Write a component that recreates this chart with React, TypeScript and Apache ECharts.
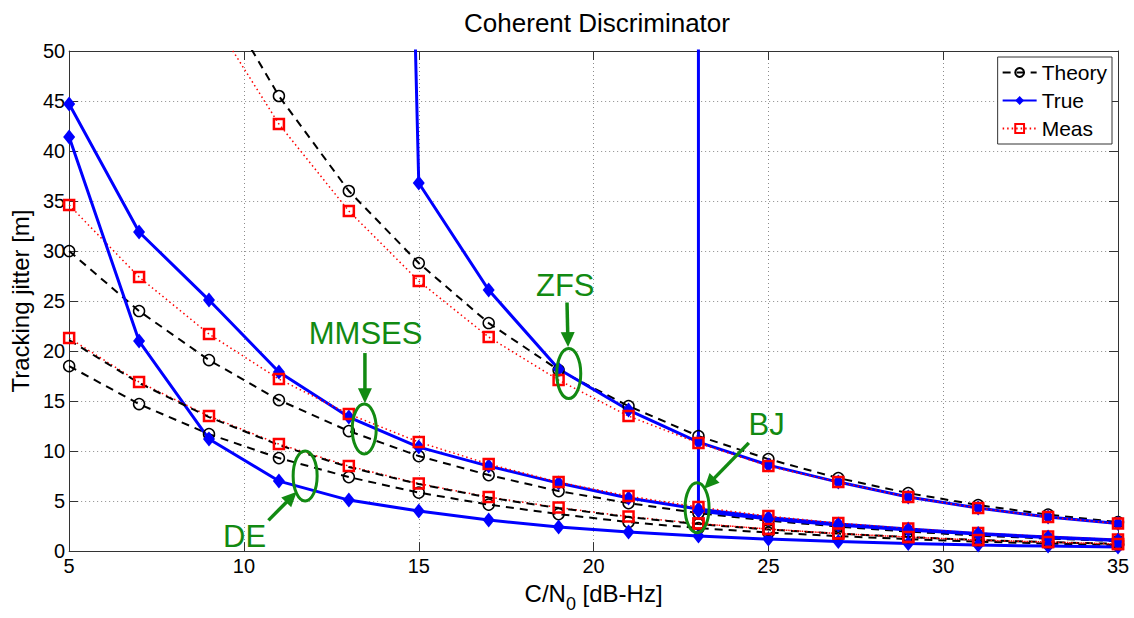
import React, { useEffect, useRef } from "react";
import * as echarts from "echarts";

const FONT = "'Liberation Sans', Arial, Helvetica, sans-serif";
const GREEN = "#128a12";

// C/N0 [dB-Hz]
const cn0 = [5, 7, 9, 11, 13, 15, 17, 19, 21, 23, 25, 27, 29, 31, 33, 35];

// ZFS
const zfsTheory = [91.0, 72.3, 57.4, 45.5, 36.0, 28.8, 22.8, 18.1, 14.5, 11.5, 9.2, 7.3, 5.8, 4.6, 3.65, 2.9];
const zfsTrue = [null, null, null, null, 320, 36.8, 26.1, 18.2, 14.1, 10.9, 8.6, 6.9, 5.4, 4.3, 3.4, 2.75];
const zfsMeas = [85.0, 67.5, 53.8, 42.7, 34.0, 27.0, 21.4, 17.1, 13.5, 10.8, 8.5, 6.9, 5.4, 4.3, 3.4, 2.75];

// MMSES
const mmsesTheory = [30.0, 24.0, 19.1, 15.1, 12.0, 9.5, 7.6, 6.0, 4.8, 3.8, 3.05, 2.45, 1.95, 1.55, 1.25, 1.0];
const mmsesTrue = [44.7, 31.9, 25.1, 17.9, 13.4, 10.4, 8.5, 6.8, 5.3, 4.2, 3.35, 2.7, 2.2, 1.75, 1.4, 1.1];
const mmsesMeas = [34.6, 27.4, 21.7, 17.2, 13.7, 10.9, 8.7, 6.9, 5.5, 4.4, 3.5, 2.8, 2.25, 1.8, 1.45, 1.15];

// DE
const deTheory = [18.5, 14.7, 11.7, 9.3, 7.4, 5.85, 4.65, 3.7, 2.9, 2.3, 1.85, 1.5, 1.2, 0.95, 0.75, 0.6];
const deTrue = [41.4, 21.0, 11.2, 7.0, 5.1, 4.0, 3.1, 2.4, 1.9, 1.5, 1.2, 0.95, 0.75, 0.6, 0.5, 0.4];
const deMeas = [21.3, 16.9, 13.5, 10.7, 8.5, 6.75, 5.4, 4.35, 3.45, 2.75, 2.2, 1.75, 1.4, 1.1, 0.9, 0.7];

// BJ
const bjTheory = [21.1, 16.8, 13.4, 10.6, 8.4, 6.7, 5.35, 4.3, 3.4, 2.7, 2.15, 1.75, 1.4, 1.1, 0.9, 0.72];
const bjTheoryFirstMarker = 23;
const bjTrue = [null, null, null, null, null, null, null, null, 100000, 4.0, 3.2, 2.6, 2.1, 1.7, 1.35, 1.05];
const bjMeas = [null, null, null, null, null, null, null, null, null, 2.75, 2.2, 1.75, 1.4, 1.1, 0.9, 0.72];

const legendNames = ["Theory", "True", "Meas"];

// annotations (data coordinates)
const annLabels = [
  { text: "ZFS", x: 19.19, y: 26.6 },
  { text: "MMSES", x: 13.48, y: 21.78 },
  { text: "DE", x: 10.02, y: 1.49 },
  { text: "BJ", x: 24.95, y: 12.67 },
];
const annEllipses = [
  { x: 19.29, y: 17.75 },
  { x: 13.44, y: 12.21 },
  { x: 11.75, y: 7.52 },
  { x: 22.96, y: 4.33 },
];
const annArrows = [
  { from: [19.24, 24.85], to: [19.27, 20.4] },
  { from: [13.46, 19.8], to: [13.46, 14.78] },
  { from: [10.7, 3.07], to: [11.51, 5.94] },
  { from: [24.44, 10.82], to: [23.16, 6.24] },
];

const pairs = (ys: (number | null)[]) => cn0.map((x, i) => [x, ys[i] === null ? null : ys[i]]);

const theoryStyle = {
  type: "line",
  name: "Theory",
  symbol: "circle",
  symbolSize: 11,
  color: "#000",
  itemStyle: { color: "rgba(0,0,0,0)", borderColor: "#000", borderWidth: 1.5 },
  lineStyle: { color: "#000", width: 2, type: [8, 6] },
};
const trueStyle = {
  type: "line",
  name: "True",
  symbol: "diamond",
  symbolSize: [12, 15],
  color: "#0000ff",
  itemStyle: { color: "#0000ff" },
  lineStyle: { color: "#0000ff", width: 3, type: "solid" },
};
const measStyle = {
  type: "line",
  name: "Meas",
  symbol: "rect",
  symbolSize: 10,
  color: "#ff0000",
  itemStyle: { color: "rgba(0,0,0,0)", borderColor: "#ff0000", borderWidth: 2.5 },
  lineStyle: { color: "#ff0000", width: 1.5, type: [1.5, 3] },
};

export default function App() {
  const ref = useRef<HTMLDivElement>(null);
  useEffect(() => {
    if (!ref.current) return;
    const chart = echarts.init(ref.current, undefined, { renderer: "svg" });
    const axisLineStyle = { color: "#333", width: 1 };
    const option: any = {
      animation: false,
      backgroundColor: "#fff",
      title: {
        text: "Coherent Discriminator",
        left: 592,
        textAlign: "center",
        top: 5,
        textStyle: { fontFamily: FONT, fontSize: 26, fontWeight: "normal", color: "#000" },
      },
      grid: { left: 67, right: 16, top: 51, bottom: 62, containLabel: false },
      legend: {
        data: legendNames,
        orient: "vertical",
        right: 22,
        top: 57,
        backgroundColor: "#fff",
        borderColor: "#333",
        borderWidth: 1,
        padding: [4, 5, 4, 4],
        itemGap: 5,
        itemWidth: 34,
        itemHeight: 11,
        itemTextGap: 4,
        textStyle: { fontFamily: FONT, fontSize: 21, color: "#000", lineHeight: 23 },
      },
      xAxis: [
        {
          type: "value",
          min: 5,
          max: 35,
          interval: 5,
          position: "bottom",
          name: "{a|C/N}{s|0}{a| [dB-Hz]}",
          nameLocation: "middle",
          nameGap: 27,
          nameTextStyle: {
            rich: {
              a: { fontFamily: FONT, fontSize: 24, color: "#000", verticalAlign: "top" },
              s: { fontFamily: FONT, fontSize: 18, color: "#000", verticalAlign: "top", padding: [14, 0, 0, 0] },
            },
          },
          axisLine: { show: true, onZero: false, lineStyle: axisLineStyle },
          axisTick: { show: true, inside: true, length: 9, lineStyle: axisLineStyle },
          axisLabel: { fontFamily: FONT, fontSize: 20, color: "#000", margin: 5 },
          splitLine: { show: true, lineStyle: { color: "#8c8c8c", width: 1, type: [1, 3] } },
        },
        {
          type: "value",
          min: 5,
          max: 35,
          interval: 5,
          position: "top",
          axisLine: { show: true, onZero: false, lineStyle: axisLineStyle },
          axisTick: { show: true, inside: true, length: 9, lineStyle: axisLineStyle },
          axisLabel: { show: false },
          splitLine: { show: false },
        },
      ],
      yAxis: [
        {
          type: "value",
          min: 0,
          max: 50,
          interval: 5,
          position: "left",
          name: "Tracking jitter [m]",
          nameLocation: "middle",
          nameGap: 33,
          nameTextStyle: { fontFamily: FONT, fontSize: 24, color: "#000" },
          axisLine: { show: true, onZero: false, lineStyle: axisLineStyle },
          axisTick: { show: true, inside: true, length: 9, lineStyle: axisLineStyle },
          axisLabel: { fontFamily: FONT, fontSize: 20, color: "#000", margin: 4 },
          splitLine: { show: true, lineStyle: { color: "#8c8c8c", width: 1, type: [1, 3] } },
        },
        {
          type: "value",
          min: 0,
          max: 50,
          interval: 5,
          position: "right",
          axisLine: { show: true, onZero: false, lineStyle: axisLineStyle },
          axisTick: { show: true, inside: true, length: 9, lineStyle: axisLineStyle },
          axisLabel: { show: false },
          splitLine: { show: false },
        },
      ],
      series: [
        { ...theoryStyle, data: pairs(zfsTheory) },
        { ...trueStyle, data: pairs(zfsTrue) },
        { ...measStyle, data: pairs(zfsMeas) },
        { ...theoryStyle, data: pairs(mmsesTheory) },
        { ...trueStyle, data: pairs(mmsesTrue) },
        { ...measStyle, data: pairs(mmsesMeas) },
        { ...theoryStyle, data: pairs(deTheory) },
        { ...trueStyle, data: pairs(deTrue) },
        { ...measStyle, data: pairs(deMeas) },
        {
          ...theoryStyle,
          data: cn0.map((x, i) => ({
            value: [x, bjTheory[i]],
            symbol: x < bjTheoryFirstMarker ? "none" : "circle",
          })),
        },
        { ...trueStyle, data: pairs(bjTrue) },
        { ...measStyle, data: pairs(bjMeas) },
      ].map((s: any) => ({ ...s, xAxisIndex: 0, yAxisIndex: 0, clip: true, z: 3, emphasis: { disabled: true } })),
    };
    chart.setOption(option);

    const px = (p: number[]) => chart.convertToPixel({ xAxisIndex: 0, yAxisIndex: 0 }, p) as number[];
    const graphics: any[] = [];
    annLabels.forEach((l) => {
      const [x, y] = px([l.x, l.y]);
      graphics.push({
        type: "text",
        x,
        y,
        z: 100,
        style: { text: l.text, fill: GREEN, fontFamily: FONT, fontSize: 31, align: "center", verticalAlign: "middle" },
      });
    });
    annEllipses.forEach((e) => {
      const [cx, cy] = px([e.x, e.y]);
      graphics.push({
        type: "ellipse",
        z: 100,
        shape: { cx, cy, rx: 12, ry: 25 },
        style: { fill: "none", stroke: GREEN, lineWidth: 3 },
      });
    });
    annArrows.forEach((a) => {
      const [x1, y1] = px(a.from);
      const [x2, y2] = px(a.to);
      const dx = x2 - x1;
      const dy = y2 - y1;
      const len = Math.sqrt(dx * dx + dy * dy);
      const ux = dx / len;
      const uy = dy / len;
      const nx = -uy;
      const ny = ux;
      const L = 15;
      const W = 7;
      const bx = x2 - ux * L;
      const by = y2 - uy * L;
      graphics.push({
        type: "line",
        z: 100,
        shape: { x1, y1, x2: bx + ux * 2, y2: by + uy * 2 },
        style: { stroke: GREEN, lineWidth: 3.5 },
      });
      graphics.push({
        type: "polygon",
        z: 100,
        shape: { points: [[x2, y2], [bx + nx * W, by + ny * W], [bx - nx * W, by - ny * W]] },
        style: { fill: GREEN },
      });
    });
    chart.setOption({ graphic: graphics });

    return () => chart.dispose();
  }, []);
  return <div ref={ref} style={{ position: "fixed", left: 0, top: 0, width: 1134, height: 618, background: "#fff" }} />;
}
